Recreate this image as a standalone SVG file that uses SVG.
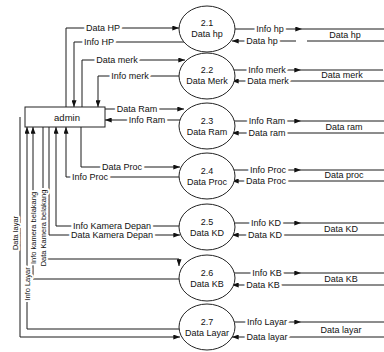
<svg xmlns="http://www.w3.org/2000/svg" width="384" height="352" viewBox="0 0 384 352">
<style>
  .ln{fill:none;stroke:#1a1a1a;stroke-width:1}
  .ar{fill:none;stroke:#1a1a1a;stroke-width:1;marker-end:url(#arr)}
  .shape{fill:#fff;stroke:#222;stroke-width:1}
  text{font-family:"Liberation Sans",Arial,sans-serif;fill:#111}
  .t{font-size:9px;text-anchor:middle;dominant-baseline:central}
  .lbl{font-size:9px;text-anchor:middle;dominant-baseline:central;paint-order:stroke;stroke:#fff;stroke-width:5px;stroke-linejoin:round}
  .vl{font-size:7.5px;text-anchor:middle;dominant-baseline:central;paint-order:stroke;stroke:#fff;stroke-width:4px;stroke-linejoin:round}
</style>
<defs>
  <marker id="arr" viewBox="0 0 8 6" refX="8" refY="3" markerWidth="7" markerHeight="5" markerUnits="userSpaceOnUse" orient="auto">
    <path d="M0,0 L8,3 L0,6 z" fill="#111"/>
  </marker>
</defs>
<rect width="384" height="352" fill="#fff"/>

<g id="connectors">
  <!-- admin <-> 2.1 -->
  <path class="ar" d="M66,107 V28 H179"/>
  <path class="ar" d="M184,42 H74 V107"/>
  <!-- admin <-> 2.2 -->
  <path class="ar" d="M82,107 V60 H185"/>
  <path class="ar" d="M179,76 H98 V107"/>
  <!-- admin <-> 2.3 -->
  <path class="ar" d="M105,109 H184"/>
  <path class="ar" d="M180,120 H105"/>
  <!-- admin <-> 2.4 -->
  <path class="ar" d="M81,127 V167 H180"/>
  <path class="ar" d="M180,177 H66 V127"/>
  <!-- admin <-> 2.5 -->
  <path class="ar" d="M180,226 H56 V127"/>
  <path class="ar" d="M49,127 V235 H180"/>
  <!-- admin <-> 2.6 -->
  <path class="ar" d="M43,127 V259 H179 V266"/>
  <path class="ar" d="M180,279 H33 V127"/>
  <!-- admin <-> 2.7 -->
  <path class="ar" d="M180,329 H27 V127"/>
  <path class="ar" d="M20,117 V337 H180"/>

  <!-- process <-> store -->
  <path class="ar" d="M235,29 H302"/>
  <path class="ar" d="M296,41 H232"/>
  <path class="ar" d="M234,70 H301"/>
  <path class="ar" d="M301,81 H232"/>
  <path class="ar" d="M234,121 H301"/>
  <path class="ar" d="M301,133 H232"/>
  <path class="ar" d="M234,170 H301"/>
  <path class="ar" d="M301,181 H232"/>
  <path class="ar" d="M234,223 H301"/>
  <path class="ar" d="M301,235 H232"/>
  <path class="ar" d="M234,273 H301"/>
  <path class="ar" d="M301,285 H232"/>
  <path class="ar" d="M234,322 H301"/>
  <path class="ar" d="M301,337 H232"/>

  <!-- labels -->
  <text class="lbl" x="103" y="28">Data HP</text>
  <text class="lbl" x="99" y="42">Info HP</text>
  <text class="lbl" x="117" y="60">Data merk</text>
  <text class="lbl" x="130" y="76">Info merk</text>
  <text class="lbl" x="137" y="109">Data Ram</text>
  <text class="lbl" x="147" y="120">Info Ram</text>
  <text class="lbl" x="122" y="167">Data Proc</text>
  <text class="lbl" x="90" y="177">Info Proc</text>
  <text class="lbl" x="112" y="226">Info Kamera Depan</text>
  <text class="lbl" x="112" y="235">Data Kamera Depan</text>
  <text class="vl" transform="translate(43,228) rotate(-90)">Data Kamera belakang</text>
  <text class="vl" transform="translate(33,228) rotate(-90)">Info kamera belakang</text>
  <text class="vl" transform="translate(27,284) rotate(-90)">Info Layar</text>
  <text class="vl" transform="translate(15.5,233) rotate(-90)">Data layar</text>

  <text class="lbl" x="270" y="29">Info hp</text>
  <text class="lbl" x="262" y="41">Data hp</text>
  <text class="lbl" x="267" y="70">Info merk</text>
  <text class="lbl" x="268" y="81">Data merk</text>
  <text class="lbl" x="267" y="121">Info Ram</text>
  <text class="lbl" x="267" y="133">Data ram</text>
  <text class="lbl" x="268" y="170">Info Proc</text>
  <text class="lbl" x="266" y="181">Data Proc</text>
  <text class="lbl" x="266" y="223">Info KD</text>
  <text class="lbl" x="265" y="235">Data KD</text>
  <text class="lbl" x="267" y="273">Info KB</text>
  <text class="lbl" x="263" y="285">Data KB</text>
  <text class="lbl" x="267" y="322">Info Layar</text>
  <text class="lbl" x="267" y="337">Data layar</text>
</g>

<g id="admin">
  <rect class="shape" x="25" y="107" width="80" height="20"/>
  <text class="t" x="67" y="117" style="font-size:9.5px">admin</text>
</g>

<g id="p21"><ellipse class="shape" cx="207" cy="29" rx="28" ry="23"/><text class="t" x="207" y="23">2.1</text><text class="t" x="207" y="34">Data hp</text></g>
<g id="p22"><ellipse class="shape" cx="207" cy="76" rx="28" ry="23"/><text class="t" x="207" y="70">2.2</text><text class="t" x="207" y="81">Data Merk</text></g>
<g id="p23"><ellipse class="shape" cx="207" cy="126" rx="28" ry="23"/><text class="t" x="207" y="121">2.3</text><text class="t" x="207" y="132">Data Ram</text></g>
<g id="p24"><ellipse class="shape" cx="207" cy="176" rx="28" ry="23"/><text class="t" x="207" y="171">2.4</text><text class="t" x="207" y="182">Data Proc</text></g>
<g id="p25"><ellipse class="shape" cx="207" cy="227" rx="28" ry="23"/><text class="t" x="207" y="222">2.5</text><text class="t" x="207" y="233">Data KD</text></g>
<g id="p26"><ellipse class="shape" cx="207" cy="278" rx="28" ry="23"/><text class="t" x="207" y="273">2.6</text><text class="t" x="207" y="284">Data KB</text></g>
<g id="p27"><ellipse class="shape" cx="207" cy="327" rx="28" ry="23"/><text class="t" x="207" y="322">2.7</text><text class="t" x="207" y="333">Data Layar</text></g>

<g id="ds-hp"><path class="ln" d="M302,29 H384 M307,41 H384"/><text class="t" x="345" y="35">Data hp</text></g>
<g id="ds-merk"><path class="ln" d="M301,70 H383 M301,81 H384"/><text class="t" x="342" y="75">Data merk</text></g>
<g id="ds-ram"><path class="ln" d="M301,121 H384 M301,133 H384"/><text class="t" x="344" y="127">Data ram</text></g>
<g id="ds-proc"><path class="ln" d="M301,170 H384 M301,181 H384"/><text class="t" x="344" y="175">Data proc</text></g>
<g id="ds-kd"><path class="ln" d="M301,223 H384 M301,235 H384"/><text class="t" x="341" y="229">Data KD</text></g>
<g id="ds-kb"><path class="ln" d="M301,273 H384 M301,285 H384"/><text class="t" x="341" y="279">Data KB</text></g>
<g id="ds-layar"><path class="ln" d="M301,322 H384 M301,337 H384"/><text class="t" x="341" y="330">Data layar</text></g>
</svg>
